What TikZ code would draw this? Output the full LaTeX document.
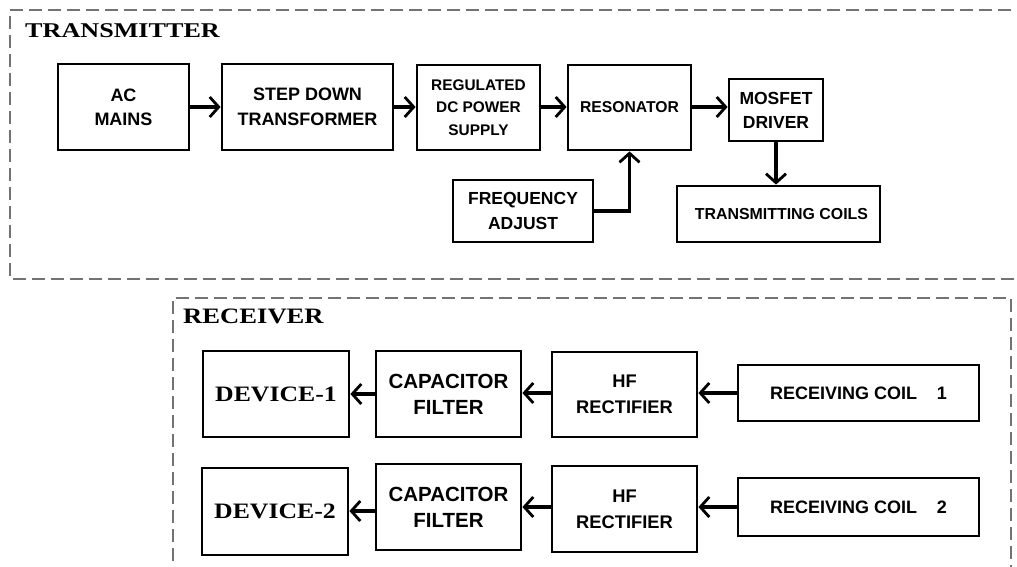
\documentclass[tikz,border=0pt]{standalone}
\usepackage{fontspec}
\setmainfont{Liberation Sans}
\newfontfamily\tnr{Liberation Serif}
\usetikzlibrary{arrows.meta}
\newcommand{\fsz}[2]{\fontsize{#1}{#2}\selectfont\bfseries}
\begin{document}
\begin{tikzpicture}[x=1pt,y=-1pt,
  blk/.style={draw=black,line width=2.8pt,inner sep=0pt,align=center,
    font=\fsz{16.5}{23}},
  conn/.style={line width=3.2pt,-{Straight Barb[length=9pt,width=20pt,line width=2.8pt]}},
  grp/.style={draw=black!55,line width=1.7pt,dash pattern=on 13pt off 6pt}]
\useasboundingbox (0,0) rectangle (1017,566);
\fill[white] (0,0) rectangle (1017,566);
\begin{scope}
\clip (0,0) rectangle (1017,566);
\draw[grp] (1030,10) -- (10,10) -- (10,279) -- (1030,279);
\draw[grp] (173,580) -- (173,298) -- (1011,298) -- (1011,580);
\end{scope}
% titles
\node[anchor=base west,inner sep=0pt,font=\tnr\fsz{21}{24}] (tt) at (25,37) {\scalebox{1.245}[1]{TRANSMITTER}};
\node[anchor=base west,inner sep=0pt,font=\tnr\fsz{22}{24}] (rt) at (183,323) {\scalebox{1.21}[1]{RECEIVER}};
% transmitter blocks
\node[blk,minimum width=131pt,minimum height=86pt,font=\fsz{18}{24}] (ac) at (123.5,107) {AC\\MAINS};
\node[blk,minimum width=171pt,minimum height=86pt,font=\fsz{18}{25}] (sd) at (307.5,107) {STEP DOWN\\TRANSFORMER};
\node[blk,minimum width=123pt,minimum height=85pt,font=\fsz{15.4}{22.5}] (reg) at (478.5,107.5) {REGULATED\\DC POWER\\SUPPLY};
\node[blk,minimum width=123pt,minimum height=85pt,font=\fsz{15.7}{22}] (res) at (629.5,107.5) {RESONATOR};
\node[blk,minimum width=94pt,minimum height=62pt,font=\fsz{17.5}{24}] (mos) at (776,110) {MOSFET\\DRIVER};
\node[blk,minimum width=140pt,minimum height=62pt,font=\fsz{17.5}{25}] (freq) at (523,211) {FREQUENCY\\ADJUST};
\node[blk,minimum width=203pt,minimum height=56pt,font=\fsz{15.9}{22}] (tc) at (778.5,214) {\hspace*{6pt}TRANSMITTING COILS};
\draw[conn] (ac.east |- 0,107) -- (sd.west |- 0,107);
\draw[conn] (sd.east |- 0,107) -- (reg.west |- 0,107);
\draw[conn] (reg.east |- 0,107) -- (res.west |- 0,107);
\draw[conn] (res.east |- 0,107) -- (mos.west |- 0,107);
\draw[conn] (freq.east) -| (res.south);
\draw[conn] (mos.south) -- (mos.south |- tc.north);
% receiver blocks
\node[blk,minimum width=146pt,minimum height=86pt,font=\tnr\fsz{22}{24}] (d1) at (276,394) {\scalebox{1.17}[1]{DEVICE-1}};
\node[blk,minimum width=145pt,minimum height=86pt,font=\fsz{20.5}{26}] (c1) at (448.5,394) {CAPACITOR\\FILTER};
\node[blk,minimum width=145pt,minimum height=85pt,font=\fsz{18.3}{26}] (h1) at (624.5,394.5) {HF\\RECTIFIER};
\node[blk,minimum width=241pt,minimum height=56pt,font=\fsz{18}{24}] (r1) at (858.5,393) {RECEIVING COIL\hspace{1.1em}1};
\node[blk,minimum width=146pt,minimum height=87pt,font=\tnr\fsz{22}{24}] (d2) at (275,511.5) {\scalebox{1.17}[1]{DEVICE-2}};
\node[blk,minimum width=145pt,minimum height=86pt,font=\fsz{20.5}{26}] (c2) at (448.5,507) {CAPACITOR\\FILTER};
\node[blk,minimum width=145pt,minimum height=86pt,font=\fsz{18.3}{26}] (h2) at (624.5,509) {HF\\RECTIFIER};
\node[blk,minimum width=241pt,minimum height=58pt,font=\fsz{18}{24}] (r2) at (858.5,507) {RECEIVING COIL\hspace{1.1em}2};
\draw[conn] (r1.west) -- (r1.west -| h1.east);
\draw[conn] (h1.west |- r1.west) -- (c1.east |- r1.west);
\draw[conn] (c1.west) -- (c1.west -| d1.east);
\draw[conn] (r2.west) -- (r2.west -| h2.east);
\draw[conn] (h2.west |- r2.west) -- (c2.east |- r2.west);
\draw[conn] (c2.west |- 0,511) -- (d2.east |- 0,511);
\end{tikzpicture}
\end{document}
